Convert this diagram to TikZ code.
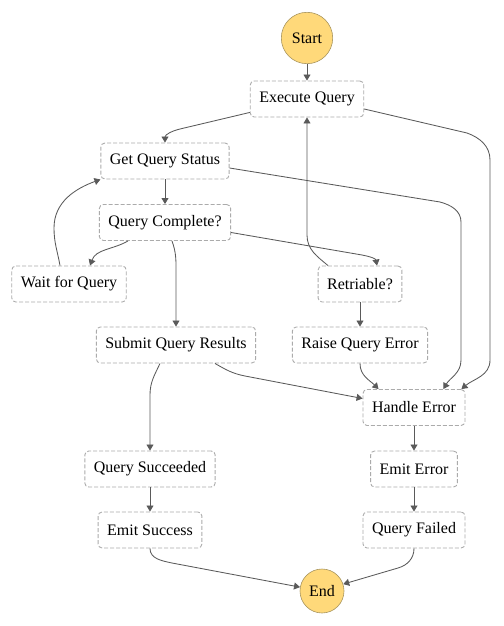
\documentclass[tikz,border=0pt]{standalone}
\usepackage{fontspec}
\setmainfont{Liberation Serif}
\usepackage{tikz}
\usetikzlibrary{positioning}
\usetikzlibrary{arrows.meta}
\definecolor{stategold}{HTML}{FFD97A}
\definecolor{stateedge}{HTML}{A8955E}
\definecolor{boxedge}{HTML}{ABABAB}
\definecolor{flowgray}{HTML}{5A5A5A}
\tikzset{mystate/.style={draw=boxedge, line width=0.9pt, dash pattern=on 4pt off 2pt,
rounded corners=4pt, minimum height=36pt, inner xsep=9pt, inner ysep=0pt,
font=\fontsize{16}{19}\selectfont},
myround/.style={circle, draw=stateedge, fill=stategold, line width=0.6pt, inner sep=0pt,
font=\fontsize{16}{19}\selectfont}}

\begin{document}
\begin{tikzpicture}[x=1pt, y=-1pt, flow/.style={draw=flowgray, line width=0.85pt, -{Triangle[length=6pt,width=7pt]}}]
	\useasboundingbox (0,0) rectangle (503,626);
	\node[myround, minimum size=51.4pt] (start) at (307,38) {Start};
	\node[mystate] (eq) at (307,99) {Execute Query};
	\node[mystate] (gqs) at (165,161) {Get Query Status};
	\node[mystate] (qc) at (165,222.5) {Query Complete?};
	\node[mystate] (wq) at (69,284) {Wait for Query};
	\node[mystate] (rt) at (360,284) {Retriable?};
	\node[mystate] (sqr) at (176,345) {Submit Query Results};
	\node[mystate] (rqe) at (360,345) {Raise Query Error};
	\node[mystate] (he) at (414,407.5) {Handle Error};
	\node[mystate] (qs) at (150,469) {Query Succeeded};
	\node[mystate] (ee) at (414,469) {Emit Error};
	\node[mystate] (es) at (150,530) {Emit Success};
	\node[mystate] (qf) at (414,530) {Query Failed};
	\node[myround, minimum size=44pt] (end) at (322,591) {End};
	\draw[flow] (start) -- (eq);
	\draw[flow] ([yshift=5pt]eq.south west) -- (180,129) to[out=193,in=90] (gqs.north);
	\draw[flow] ([yshift=-10pt]eq.east) -- (467,133) to[out=-20,in=90] (490,160) -- (490,360) to[out=-90,in=40] ([xshift=-4pt]he.north east);
	\draw[flow] (gqs) -- (qc);
	\draw[flow] ([yshift=-7pt]gqs.east) -- (440,202) to[out=-15,in=90] (461,222) -- (461,360) to[out=-90,in=60] ([xshift=-22pt]he.north east);
	\draw[flow] ([xshift=-37pt]qc.south) to[out=210,in=70] ([xshift=21pt]wq.north);
	\draw[flow] ([xshift=7pt]qc.south) to[out=-70,in=90] (176,275) -- (sqr.north);
	\draw[flow] ([yshift=-10pt]qc.east) -- (362,255) to[out=-10,in=100] ([xshift=17pt]rt.north);
	\draw[flow] ([xshift=-9pt]wq.north) to[out=100,in=-90] (54,228) to[out=90,in=200] (gqs.south west);
	\draw[flow] ([xshift=-32pt]rt.north) to[out=140,in=-90] (307,235) -- (eq.south);
	\draw[flow] (rt) -- (rqe);
	\draw[flow] ([xshift=-16pt]sqr.south) to[out=-115,in=90] (150,395) -- (qs.north);
	\draw[flow] ([xshift=39pt]sqr.south) to[out=-30,in=169] (245,376) -- ([yshift=9pt]he.west);
	\draw[flow] (rqe.south) to[out=-90,in=135] ([xshift=16pt]he.north west);
	\draw[flow] (he) -- (ee);
	\draw[flow] (qs) -- (es);
	\draw[flow] (ee) -- (qf);
	\draw[flow] (es.south) to[out=-90,in=168] (172,563) -- (end.170);
	\draw[flow] (qf.south) to[out=-90,in=16] (398,568) -- (end.18);
\end{tikzpicture}
\end{document}
